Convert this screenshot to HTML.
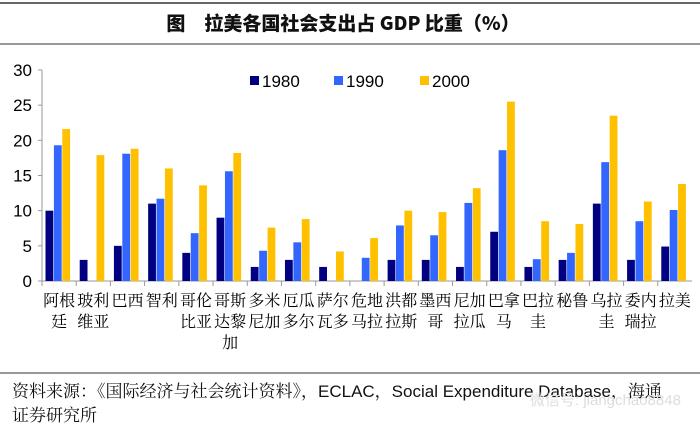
<!DOCTYPE html>
<html><head><meta charset="utf-8"><style>
html,body{margin:0;padding:0;background:#fff;}
svg{display:block;font-family:"Liberation Sans","Noto Sans CJK SC",sans-serif;}
</style></head><body>
<svg id="c" width="700" height="433" viewBox="0 0 700 433" xmlns="http://www.w3.org/2000/svg">
<line x1="0" y1="3" x2="700" y2="3" stroke="#666" stroke-width="2"/>
<text x="343" y="30" text-anchor="middle" font-size="19" font-weight="900" font-family="'Noto Sans CJK SC',sans-serif" fill="#111">图　拉美各国社会支出占 GDP 比重（%）</text>
<line x1="0" y1="44" x2="700" y2="44" stroke="#777" stroke-width="1.5"/>
<g id="plot"></g>
<line x1="0" y1="373" x2="700" y2="373" stroke="#777" stroke-width="1.5"/>
<text x="12" y="397" font-size="17" fill="#111" font-family="'Liberation Sans','Noto Serif CJK SC',sans-serif">资料来源：《国际经济与社会统计资料》，ECLAC，Social Expenditure Database，海通</text>
<text x="12" y="421" font-size="17" fill="#111" font-family="'Noto Serif CJK SC',sans-serif">证券研究所</text>
<text x="530" y="405" font-size="15" fill="#ddd">微信号: jiangchao8848</text>
</svg>
<script>
const categories=[["阿根","廷"],["玻利","维亚"],["巴西",""],["智利",""],["哥伦","比亚"],["哥斯","达黎","加"],["多米","尼加"],["厄瓜","多尔"],["萨尔","瓦多"],["危地","马拉"],["洪都","拉斯"],["墨西","哥"],["尼加","拉瓜"],["巴拿","马"],["巴拉","圭"],["秘鲁",""],["乌拉","圭"],["委内","瑞拉"],["拉美",""]];
const s1980=[10,3,5,11,4,9,2,3,2,0,3,3,2,7,2,3,11,3,4.9];
const s1990=[19.3,0,18.1,11.7,6.8,15.6,4.3,5.5,0,3.3,7.9,6.5,11.1,18.6,3.1,4,16.9,8.5,10.1];
const s2000=[21.6,17.9,18.8,16,13.6,18.2,7.6,8.8,4.2,6.1,10,9.8,13.2,25.5,8.5,8.1,23.5,11.3,13.8];
const seriesNames=["1980","1990","2000"];
const yTicks=[0,5,10,15,20,25,30];
const NS="http://www.w3.org/2000/svg";
const g=document.getElementById("plot");
const x0=42,x1=692,y0=281,yTop=70,yMax=30;
const cw=(x1-x0)/categories.length;
const yS=v=>y0-(v/yMax)*(y0-yTop);
const xS=i=>x0+i*cw;
const colors=["#000080","#3366FF","#FFC000"];
function mk(t,a){const e=document.createElementNS(NS,t);for(const k in a)e.setAttribute(k,a[k]);g.appendChild(e);return e;}
let ax=mk("line",{x1:x0,y1:yTop,x2:x0,y2:y0,stroke:"#999"});


yTicks.forEach(t=>{
 const tk=mk("line",{x1:x0-4,y1:yS(t),x2:x0,y2:yS(t),stroke:"#999"});
 
 
 const l=mk("text",{x:x0-10,y:yS(t)+6,"text-anchor":"end","font-size":"17",fill:"#000"});
 l.textContent=t;
 
 
});
let xa=mk("line",{x1:x0,y1:y0,x2:x1,y2:y0,stroke:"#999"});


const series=[s1980,s1990,s2000];
const bw=8.4;
categories.forEach((c,i)=>{
 const tk=mk("line",{x1:xS(i),y1:y0,x2:xS(i),y2:y0+5,stroke:"#999"});
 
 
 series.forEach((s,j)=>{
  if(s[i]<=0)return;
  const r=mk("rect",{x:xS(i)+3.5+j*bw,y:yS(s[i]),width:bw-0.6,height:y0-yS(s[i]),fill:colors[j]});
  
  
 });
 c.forEach((ln,k)=>{
  if(!ln)return;
  const t=mk("text",{x:xS(i)+cw/2,y:306+k*21,"text-anchor":"middle","font-size":"16",fill:"#000","font-family":"'Noto Serif CJK SC',serif"});
  t.textContent=ln;
  
  
 });
});
const lx=[250,334,420];
seriesNames.forEach((n,j)=>{
 const r=mk("rect",{x:lx[j],y:76,width:9,height:9,fill:colors[j]});
 
 
 const t=mk("text",{x:lx[j]+12,y:87,"font-size":"17",fill:"#000"});
 t.textContent=n;
 
 
});
</script>
</body></html>
